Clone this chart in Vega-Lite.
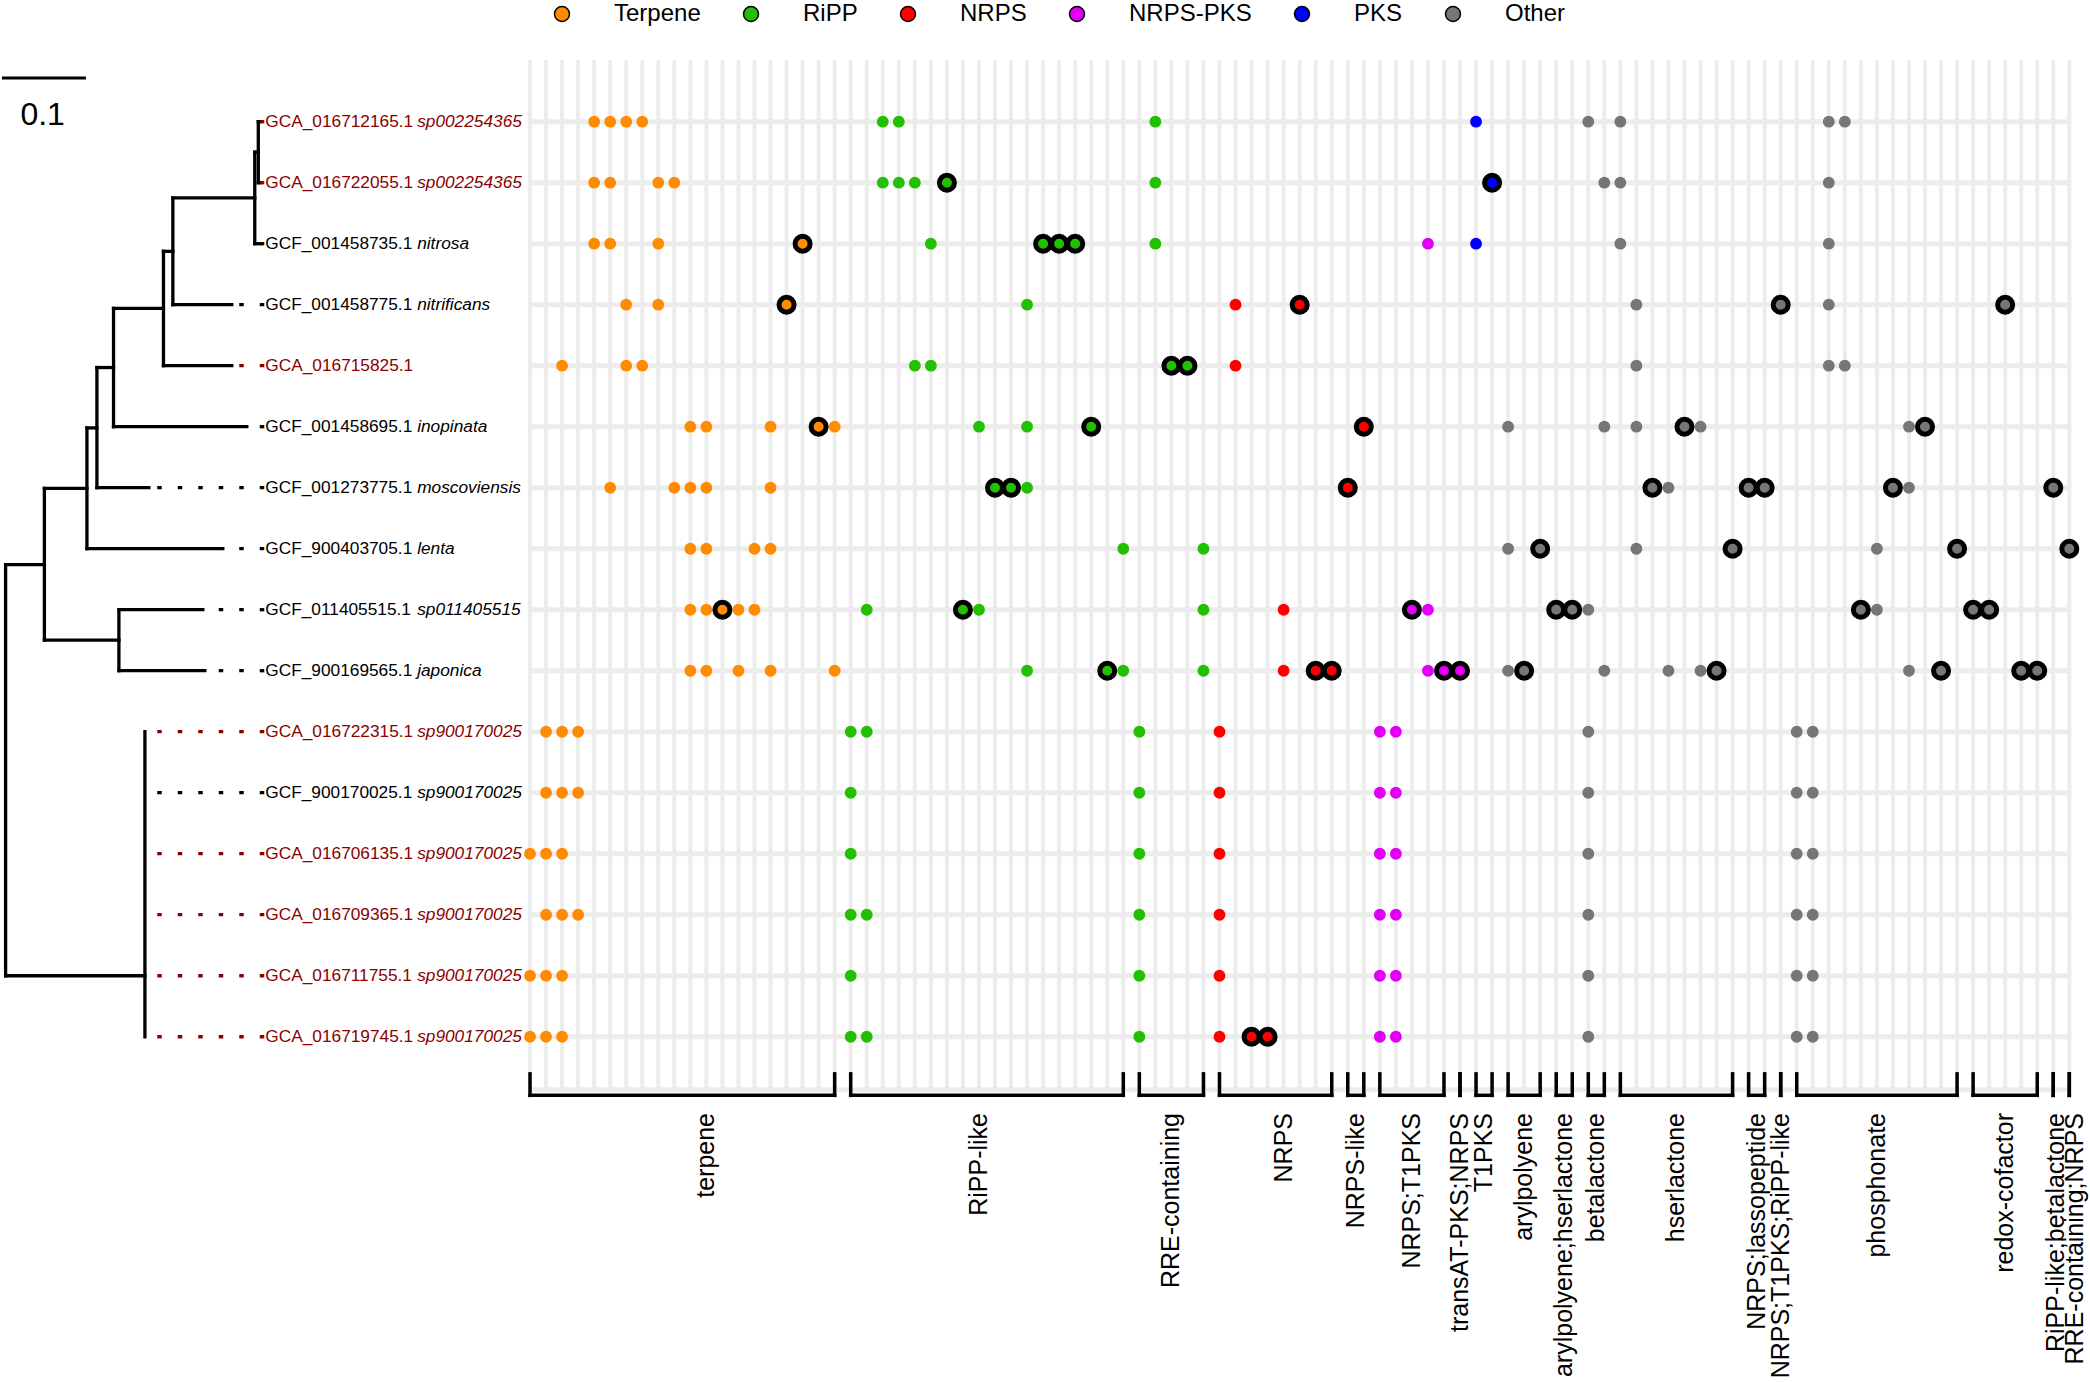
{
 "$schema": "https://vega.github.io/schema/vega-lite/v6.json",
 "width": 2090, "height": 1382,
 "autosize": {"type": "fit", "contains": "padding"},
 "padding": 0,
 "background": "white",
 "config": {"view": {"stroke": null}, "font": "Liberation Sans"},
 "resolve": {"scale": {"x": "independent", "color": "independent"}},
 "datasets": {
  "cols": [{"c":0},{"c":1},{"c":2},{"c":3},{"c":4},{"c":5},{"c":6},{"c":7},{"c":8},{"c":9},{"c":10},{"c":11},{"c":12},{"c":13},{"c":14},{"c":15},{"c":16},{"c":17},{"c":18},{"c":19},{"c":20},{"c":21},{"c":22},{"c":23},{"c":24},{"c":25},{"c":26},{"c":27},{"c":28},{"c":29},{"c":30},{"c":31},{"c":32},{"c":33},{"c":34},{"c":35},{"c":36},{"c":37},{"c":38},{"c":39},{"c":40},{"c":41},{"c":42},{"c":43},{"c":44},{"c":45},{"c":46},{"c":47},{"c":48},{"c":49},{"c":50},{"c":51},{"c":52},{"c":53},{"c":54},{"c":55},{"c":56},{"c":57},{"c":58},{"c":59},{"c":60},{"c":61},{"c":62},{"c":63},{"c":64},{"c":65},{"c":66},{"c":67},{"c":68},{"c":69},{"c":70},{"c":71},{"c":72},{"c":73},{"c":74},{"c":75},{"c":76},{"c":77},{"c":78},{"c":79},{"c":80},{"c":81},{"c":82},{"c":83},{"c":84},{"c":85},{"c":86},{"c":87},{"c":88},{"c":89},{"c":90},{"c":91},{"c":92},{"c":93},{"c":94},{"c":95},{"c":96}],
  "leaves": [
   {"r":0,"acc":"GCA_016712165.1","sp":"sp002254365","src":"GCA","tip":0.3035,"lab":0.3082},
   {"r":1,"acc":"GCA_016722055.1","sp":"sp002254365","src":"GCA","tip":0.3035,"lab":0.3082},
   {"r":2,"acc":"GCF_001458735.1","sp":"nitrosa","src":"GCF","tip":0.3035,"lab":0.3082},
   {"r":3,"acc":"GCF_001458775.1","sp":"nitrificans","src":"GCF","tip":0.2695,"lab":0.3082},
   {"r":4,"acc":"GCA_016715825.1","sp":"","src":"GCA","tip":0.2695,"lab":0.3082},
   {"r":5,"acc":"GCF_001458695.1","sp":"inopinata","src":"GCF","tip":0.2874,"lab":0.3082},
   {"r":6,"acc":"GCF_001273775.1","sp":"moscoviensis","src":"GCF","tip":0.1707,"lab":0.3082},
   {"r":7,"acc":"GCF_900403705.1","sp":"lenta","src":"GCF","tip":0.2588,"lab":0.3082},
   {"r":8,"acc":"GCF_011405515.1","sp":"sp011405515","src":"GCF","tip":0.235,"lab":0.3082},
   {"r":9,"acc":"GCF_900169565.1","sp":"japonica","src":"GCF","tip":0.2374,"lab":0.3082},
   {"r":10,"acc":"GCA_016722315.1","sp":"sp900170025","src":"GCA","tip":0.1743,"lab":0.3082},
   {"r":11,"acc":"GCF_900170025.1","sp":"sp900170025","src":"GCF","tip":0.1743,"lab":0.3082},
   {"r":12,"acc":"GCA_016706135.1","sp":"sp900170025","src":"GCA","tip":0.1743,"lab":0.3082},
   {"r":13,"acc":"GCA_016709365.1","sp":"sp900170025","src":"GCA","tip":0.1743,"lab":0.3082},
   {"r":14,"acc":"GCA_016711755.1","sp":"sp900170025","src":"GCA","tip":0.1743,"lab":0.3082},
   {"r":15,"acc":"GCA_016719745.1","sp":"sp900170025","src":"GCA","tip":0.1743,"lab":0.3082}
  ],
  "tree": [
   {"x":0.3011,"x2":0.3011,"y":0,"y2":1},
   {"x":0.2969,"x2":0.2969,"y":0.5,"y2":2},
   {"x":0.1993,"x2":0.1993,"y":1.25,"y2":3},
   {"x":0.1881,"x2":0.1881,"y":2.125,"y2":4},
   {"x":0.1286,"x2":0.1286,"y":3.06,"y2":5},
   {"x":0.1088,"x2":0.1088,"y":4.03,"y2":6},
   {"x":0.0969,"x2":0.0969,"y":5.02,"y2":7},
   {"x":0.135,"x2":0.135,"y":8,"y2":9},
   {"x":0.0462,"x2":0.0462,"y":6.01,"y2":8.5},
   {"x":0.166,"x2":0.166,"y":10,"y2":15},
   {"x":0,"x2":0,"y":7.26,"y2":14},
   {"x":0.3011,"x2":0.3035,"y":0,"y2":0},
   {"x":0.3011,"x2":0.3035,"y":1,"y2":1},
   {"x":0.2969,"x2":0.3011,"y":0.5,"y2":0.5},
   {"x":0.2969,"x2":0.3035,"y":2,"y2":2},
   {"x":0.1993,"x2":0.2969,"y":1.25,"y2":1.25},
   {"x":0.1993,"x2":0.2695,"y":3,"y2":3},
   {"x":0.1881,"x2":0.1993,"y":2.125,"y2":2.125},
   {"x":0.1881,"x2":0.2695,"y":4,"y2":4},
   {"x":0.1286,"x2":0.1881,"y":3.06,"y2":3.06},
   {"x":0.1286,"x2":0.2874,"y":5,"y2":5},
   {"x":0.1088,"x2":0.1286,"y":4.03,"y2":4.03},
   {"x":0.1088,"x2":0.1707,"y":6,"y2":6},
   {"x":0.0969,"x2":0.1088,"y":5.02,"y2":5.02},
   {"x":0.0969,"x2":0.2588,"y":7,"y2":7},
   {"x":0.0462,"x2":0.0969,"y":6.01,"y2":6.01},
   {"x":0.0462,"x2":0.135,"y":8.5,"y2":8.5},
   {"x":0.135,"x2":0.235,"y":8,"y2":8},
   {"x":0.135,"x2":0.2374,"y":9,"y2":9},
   {"x":0,"x2":0.0462,"y":7.26,"y2":7.26},
   {"x":0,"x2":0.166,"y":14,"y2":14}
  ],
  "groups": [
   {"g":"terpene","s":0,"e":19,"lx":11},
   {"g":"RiPP-like","s":20,"e":37,"lx":28},
   {"g":"RRE-containing","s":38,"e":42,"lx":40},
   {"g":"NRPS","s":43,"e":50,"lx":47},
   {"g":"NRPS-like","s":51,"e":52,"lx":51.5},
   {"g":"NRPS;T1PKS","s":53,"e":57,"lx":55},
   {"g":"transAT-PKS;NRPS","s":58,"e":58,"lx":58},
   {"g":"T1PKS","s":59,"e":60,"lx":59.5},
   {"g":"arylpolyene","s":61,"e":63,"lx":62},
   {"g":"arylpolyene;hserlactone","s":64,"e":65,"lx":64.5},
   {"g":"betalactone","s":66,"e":67,"lx":66.5},
   {"g":"hserlactone","s":68,"e":75,"lx":71.5},
   {"g":"NRPS;lassopeptide","s":76,"e":77,"lx":76.5},
   {"g":"NRPS;T1PKS;RiPP-like","s":78,"e":78,"lx":78},
   {"g":"phosphonate","s":79,"e":89,"lx":84},
   {"g":"redox-cofactor","s":90,"e":94,"lx":92},
   {"g":"RiPP-like;betalactone","s":95,"e":95,"lx":95.2},
   {"g":"RRE-containing;NRPS","s":96,"e":96,"lx":96.35}
  ],
  "dots": [
   {"r":0,"c":4,"t":"Terpene","b":0},{"r":0,"c":5,"t":"Terpene","b":0},{"r":0,"c":6,"t":"Terpene","b":0},{"r":0,"c":7,"t":"Terpene","b":0},
   {"r":0,"c":22,"t":"RiPP","b":0},{"r":0,"c":23,"t":"RiPP","b":0},{"r":0,"c":39,"t":"RiPP","b":0},{"r":0,"c":59,"t":"PKS","b":0},
   {"r":0,"c":66,"t":"Other","b":0},{"r":0,"c":68,"t":"Other","b":0},{"r":0,"c":81,"t":"Other","b":0},{"r":0,"c":82,"t":"Other","b":0},
   {"r":1,"c":4,"t":"Terpene","b":0},{"r":1,"c":5,"t":"Terpene","b":0},{"r":1,"c":8,"t":"Terpene","b":0},{"r":1,"c":9,"t":"Terpene","b":0},
   {"r":1,"c":22,"t":"RiPP","b":0},{"r":1,"c":23,"t":"RiPP","b":0},{"r":1,"c":24,"t":"RiPP","b":0},{"r":1,"c":26,"t":"RiPP","b":1},{"r":1,"c":39,"t":"RiPP","b":0},
   {"r":1,"c":60,"t":"PKS","b":1},{"r":1,"c":67,"t":"Other","b":0},{"r":1,"c":68,"t":"Other","b":0},{"r":1,"c":81,"t":"Other","b":0},
   {"r":2,"c":4,"t":"Terpene","b":0},{"r":2,"c":5,"t":"Terpene","b":0},{"r":2,"c":8,"t":"Terpene","b":0},{"r":2,"c":17,"t":"Terpene","b":1},
   {"r":2,"c":25,"t":"RiPP","b":0},{"r":2,"c":32,"t":"RiPP","b":1},{"r":2,"c":33,"t":"RiPP","b":1},{"r":2,"c":34,"t":"RiPP","b":1},{"r":2,"c":39,"t":"RiPP","b":0},
   {"r":2,"c":56,"t":"NRPS-PKS","b":0},{"r":2,"c":59,"t":"PKS","b":0},{"r":2,"c":68,"t":"Other","b":0},{"r":2,"c":81,"t":"Other","b":0},
   {"r":3,"c":6,"t":"Terpene","b":0},{"r":3,"c":8,"t":"Terpene","b":0},{"r":3,"c":16,"t":"Terpene","b":1},{"r":3,"c":31,"t":"RiPP","b":0},
   {"r":3,"c":44,"t":"NRPS","b":0},{"r":3,"c":48,"t":"NRPS","b":1},{"r":3,"c":69,"t":"Other","b":0},{"r":3,"c":78,"t":"Other","b":1},{"r":3,"c":81,"t":"Other","b":0},{"r":3,"c":92,"t":"Other","b":1},
   {"r":4,"c":2,"t":"Terpene","b":0},{"r":4,"c":6,"t":"Terpene","b":0},{"r":4,"c":7,"t":"Terpene","b":0},{"r":4,"c":24,"t":"RiPP","b":0},{"r":4,"c":25,"t":"RiPP","b":0},
   {"r":4,"c":40,"t":"RiPP","b":1},{"r":4,"c":41,"t":"RiPP","b":1},{"r":4,"c":44,"t":"NRPS","b":0},{"r":4,"c":69,"t":"Other","b":0},{"r":4,"c":81,"t":"Other","b":0},{"r":4,"c":82,"t":"Other","b":0},
   {"r":5,"c":10,"t":"Terpene","b":0},{"r":5,"c":11,"t":"Terpene","b":0},{"r":5,"c":15,"t":"Terpene","b":0},{"r":5,"c":18,"t":"Terpene","b":1},{"r":5,"c":19,"t":"Terpene","b":0},
   {"r":5,"c":28,"t":"RiPP","b":0},{"r":5,"c":31,"t":"RiPP","b":0},{"r":5,"c":35,"t":"RiPP","b":1},{"r":5,"c":52,"t":"NRPS","b":1},
   {"r":5,"c":61,"t":"Other","b":0},{"r":5,"c":67,"t":"Other","b":0},{"r":5,"c":69,"t":"Other","b":0},{"r":5,"c":72,"t":"Other","b":1},{"r":5,"c":73,"t":"Other","b":0},{"r":5,"c":86,"t":"Other","b":0},{"r":5,"c":87,"t":"Other","b":1},
   {"r":6,"c":5,"t":"Terpene","b":0},{"r":6,"c":9,"t":"Terpene","b":0},{"r":6,"c":10,"t":"Terpene","b":0},{"r":6,"c":11,"t":"Terpene","b":0},{"r":6,"c":15,"t":"Terpene","b":0},
   {"r":6,"c":29,"t":"RiPP","b":1},{"r":6,"c":30,"t":"RiPP","b":1},{"r":6,"c":31,"t":"RiPP","b":0},{"r":6,"c":51,"t":"NRPS","b":1},
   {"r":6,"c":70,"t":"Other","b":1},{"r":6,"c":71,"t":"Other","b":0},{"r":6,"c":76,"t":"Other","b":1},{"r":6,"c":77,"t":"Other","b":1},{"r":6,"c":85,"t":"Other","b":1},{"r":6,"c":86,"t":"Other","b":0},{"r":6,"c":95,"t":"Other","b":1},
   {"r":7,"c":10,"t":"Terpene","b":0},{"r":7,"c":11,"t":"Terpene","b":0},{"r":7,"c":14,"t":"Terpene","b":0},{"r":7,"c":15,"t":"Terpene","b":0},
   {"r":7,"c":37,"t":"RiPP","b":0},{"r":7,"c":42,"t":"RiPP","b":0},
   {"r":7,"c":61,"t":"Other","b":0},{"r":7,"c":63,"t":"Other","b":1},{"r":7,"c":69,"t":"Other","b":0},{"r":7,"c":75,"t":"Other","b":1},{"r":7,"c":84,"t":"Other","b":0},{"r":7,"c":89,"t":"Other","b":1},{"r":7,"c":96,"t":"Other","b":1},
   {"r":8,"c":10,"t":"Terpene","b":0},{"r":8,"c":11,"t":"Terpene","b":0},{"r":8,"c":13,"t":"Terpene","b":0},{"r":8,"c":14,"t":"Terpene","b":0},{"r":8,"c":12,"t":"Terpene","b":1},
   {"r":8,"c":21,"t":"RiPP","b":0},{"r":8,"c":28,"t":"RiPP","b":0},{"r":8,"c":27,"t":"RiPP","b":1},{"r":8,"c":42,"t":"RiPP","b":0},
   {"r":8,"c":47,"t":"NRPS","b":0},{"r":8,"c":56,"t":"NRPS-PKS","b":0},{"r":8,"c":55,"t":"NRPS-PKS","b":1},
   {"r":8,"c":66,"t":"Other","b":0},{"r":8,"c":64,"t":"Other","b":1},{"r":8,"c":65,"t":"Other","b":1},{"r":8,"c":84,"t":"Other","b":0},{"r":8,"c":83,"t":"Other","b":1},{"r":8,"c":90,"t":"Other","b":1},{"r":8,"c":91,"t":"Other","b":1},
   {"r":9,"c":10,"t":"Terpene","b":0},{"r":9,"c":11,"t":"Terpene","b":0},{"r":9,"c":13,"t":"Terpene","b":0},{"r":9,"c":15,"t":"Terpene","b":0},{"r":9,"c":19,"t":"Terpene","b":0},
   {"r":9,"c":31,"t":"RiPP","b":0},{"r":9,"c":37,"t":"RiPP","b":0},{"r":9,"c":36,"t":"RiPP","b":1},{"r":9,"c":42,"t":"RiPP","b":0},
   {"r":9,"c":47,"t":"NRPS","b":0},{"r":9,"c":49,"t":"NRPS","b":1},{"r":9,"c":50,"t":"NRPS","b":1},
   {"r":9,"c":56,"t":"NRPS-PKS","b":0},{"r":9,"c":57,"t":"NRPS-PKS","b":1},{"r":9,"c":58,"t":"NRPS-PKS","b":1},
   {"r":9,"c":61,"t":"Other","b":0},{"r":9,"c":62,"t":"Other","b":1},{"r":9,"c":67,"t":"Other","b":0},{"r":9,"c":71,"t":"Other","b":0},{"r":9,"c":73,"t":"Other","b":0},{"r":9,"c":74,"t":"Other","b":1},
   {"r":9,"c":86,"t":"Other","b":0},{"r":9,"c":88,"t":"Other","b":1},{"r":9,"c":93,"t":"Other","b":1},{"r":9,"c":94,"t":"Other","b":1},
   {"r":10,"c":1,"t":"Terpene","b":0},{"r":10,"c":2,"t":"Terpene","b":0},{"r":10,"c":3,"t":"Terpene","b":0},{"r":10,"c":20,"t":"RiPP","b":0},{"r":10,"c":21,"t":"RiPP","b":0},{"r":10,"c":38,"t":"RiPP","b":0},
   {"r":10,"c":43,"t":"NRPS","b":0},{"r":10,"c":53,"t":"NRPS-PKS","b":0},{"r":10,"c":54,"t":"NRPS-PKS","b":0},{"r":10,"c":66,"t":"Other","b":0},{"r":10,"c":79,"t":"Other","b":0},{"r":10,"c":80,"t":"Other","b":0},
   {"r":11,"c":1,"t":"Terpene","b":0},{"r":11,"c":2,"t":"Terpene","b":0},{"r":11,"c":3,"t":"Terpene","b":0},{"r":11,"c":20,"t":"RiPP","b":0},{"r":11,"c":38,"t":"RiPP","b":0},
   {"r":11,"c":43,"t":"NRPS","b":0},{"r":11,"c":53,"t":"NRPS-PKS","b":0},{"r":11,"c":54,"t":"NRPS-PKS","b":0},{"r":11,"c":66,"t":"Other","b":0},{"r":11,"c":79,"t":"Other","b":0},{"r":11,"c":80,"t":"Other","b":0},
   {"r":12,"c":0,"t":"Terpene","b":0},{"r":12,"c":1,"t":"Terpene","b":0},{"r":12,"c":2,"t":"Terpene","b":0},{"r":12,"c":20,"t":"RiPP","b":0},{"r":12,"c":38,"t":"RiPP","b":0},
   {"r":12,"c":43,"t":"NRPS","b":0},{"r":12,"c":53,"t":"NRPS-PKS","b":0},{"r":12,"c":54,"t":"NRPS-PKS","b":0},{"r":12,"c":66,"t":"Other","b":0},{"r":12,"c":79,"t":"Other","b":0},{"r":12,"c":80,"t":"Other","b":0},
   {"r":13,"c":1,"t":"Terpene","b":0},{"r":13,"c":2,"t":"Terpene","b":0},{"r":13,"c":3,"t":"Terpene","b":0},{"r":13,"c":20,"t":"RiPP","b":0},{"r":13,"c":21,"t":"RiPP","b":0},{"r":13,"c":38,"t":"RiPP","b":0},
   {"r":13,"c":43,"t":"NRPS","b":0},{"r":13,"c":53,"t":"NRPS-PKS","b":0},{"r":13,"c":54,"t":"NRPS-PKS","b":0},{"r":13,"c":66,"t":"Other","b":0},{"r":13,"c":79,"t":"Other","b":0},{"r":13,"c":80,"t":"Other","b":0},
   {"r":14,"c":0,"t":"Terpene","b":0},{"r":14,"c":1,"t":"Terpene","b":0},{"r":14,"c":2,"t":"Terpene","b":0},{"r":14,"c":20,"t":"RiPP","b":0},{"r":14,"c":38,"t":"RiPP","b":0},
   {"r":14,"c":43,"t":"NRPS","b":0},{"r":14,"c":53,"t":"NRPS-PKS","b":0},{"r":14,"c":54,"t":"NRPS-PKS","b":0},{"r":14,"c":66,"t":"Other","b":0},{"r":14,"c":79,"t":"Other","b":0},{"r":14,"c":80,"t":"Other","b":0},
   {"r":15,"c":0,"t":"Terpene","b":0},{"r":15,"c":1,"t":"Terpene","b":0},{"r":15,"c":2,"t":"Terpene","b":0},{"r":15,"c":20,"t":"RiPP","b":0},{"r":15,"c":21,"t":"RiPP","b":0},{"r":15,"c":38,"t":"RiPP","b":0},
   {"r":15,"c":43,"t":"NRPS","b":0},{"r":15,"c":45,"t":"NRPS","b":1},{"r":15,"c":46,"t":"NRPS","b":1},{"r":15,"c":53,"t":"NRPS-PKS","b":0},{"r":15,"c":54,"t":"NRPS-PKS","b":0},{"r":15,"c":66,"t":"Other","b":0},{"r":15,"c":79,"t":"Other","b":0},{"r":15,"c":80,"t":"Other","b":0}
  ]
 },
 "layer": [
  {
   "data": {"name": "cols"},
   "mark": {"type": "rule", "color": "#ECECEC", "strokeWidth": 4},
   "encoding": {
    "x": {"field": "c", "type": "quantitative", "scale": {"domain": [-32.93, 97.29], "nice": false, "zero": false}, "axis": null},
    "y": {"datum": -1.01, "type": "quantitative", "scale": {"domain": [-1.995, 20.66], "reverse": true, "nice": false, "zero": false}, "axis": null},
    "y2": {"datum": 15.87}
   }
  },
  {
   "data": {"name": "leaves"},
   "mark": {"type": "rule", "color": "#ECECEC", "strokeWidth": 5},
   "encoding": {
    "x": {"datum": -0.12, "type": "quantitative", "scale": {"domain": [-32.93, 97.29], "nice": false, "zero": false}, "axis": null},
    "x2": {"datum": 96.12},
    "y": {"field": "r", "type": "quantitative", "scale": {"domain": [-1.995, 20.66], "reverse": true, "nice": false, "zero": false}, "axis": null}
   }
  },
  {
   "data": {"values": [{"k": 1}]},
   "mark": {"type": "rule", "color": "#ECECEC", "strokeWidth": 5},
   "encoding": {
    "x": {"datum": -0.12, "type": "quantitative", "scale": {"domain": [-32.93, 97.29], "nice": false, "zero": false}, "axis": null},
    "x2": {"datum": 96.12},
    "y": {"datum": 15.87, "type": "quantitative", "scale": {"domain": [-1.995, 20.66], "reverse": true, "nice": false, "zero": false}, "axis": null}
   }
  },
  {
   "data": {"name": "groups"},
   "mark": {"type": "rule", "color": "black", "strokeWidth": 3.5},
   "encoding": {
    "x": {"field": "s", "type": "quantitative", "scale": {"domain": [-32.93, 97.29], "nice": false, "zero": false}, "axis": null},
    "y": {"datum": 15.58, "type": "quantitative", "scale": {"domain": [-1.995, 20.66], "reverse": true, "nice": false, "zero": false}, "axis": null},
    "y2": {"datum": 15.99}
   }
  },
  {
   "data": {"name": "groups"},
   "mark": {"type": "rule", "color": "black", "strokeWidth": 3.5},
   "encoding": {
    "x": {"field": "e", "type": "quantitative", "scale": {"domain": [-32.93, 97.29], "nice": false, "zero": false}, "axis": null},
    "y": {"datum": 15.58, "type": "quantitative", "scale": {"domain": [-1.995, 20.66], "reverse": true, "nice": false, "zero": false}, "axis": null},
    "y2": {"datum": 15.99}
   }
  },
  {
   "data": {"name": "groups"},
   "mark": {"type": "rule", "color": "black", "strokeWidth": 3.5, "strokeCap": "square"},
   "encoding": {
    "x": {"field": "s", "type": "quantitative", "scale": {"domain": [-32.93, 97.29], "nice": false, "zero": false}, "axis": null},
    "x2": {"field": "e"},
    "y": {"datum": 15.96, "type": "quantitative", "scale": {"domain": [-1.995, 20.66], "reverse": true, "nice": false, "zero": false}, "axis": null}
   }
  },
  {
   "data": {"name": "groups"},
   "mark": {"type": "text", "angle": 270, "align": "right", "baseline": "middle", "fontSize": 25, "font": "Liberation Sans", "color": "black"},
   "encoding": {
    "x": {"field": "lx", "type": "quantitative", "scale": {"domain": [-32.93, 97.29], "nice": false, "zero": false}, "axis": null},
    "y": {"datum": 16.25, "type": "quantitative", "scale": {"domain": [-1.995, 20.66], "reverse": true, "nice": false, "zero": false}, "axis": null},
    "text": {"field": "g"}
   }
  },
  {
   "data": {"name": "dots"},
   "transform": [{"filter": "datum.b == 0"}],
   "mark": {"type": "point", "shape": "circle", "filled": true, "size": 140, "opacity": 1, "strokeWidth": 0},
   "encoding": {
    "x": {"field": "c", "type": "quantitative", "scale": {"domain": [-32.93, 97.29], "nice": false, "zero": false}, "axis": null},
    "y": {"field": "r", "type": "quantitative", "scale": {"domain": [-1.995, 20.66], "reverse": true, "nice": false, "zero": false}, "axis": null},
    "fill": {"field": "t", "type": "nominal",
      "scale": {"domain": ["Terpene", "RiPP", "NRPS", "NRPS-PKS", "PKS", "Other"], "range": ["#FF8C00", "#22C000", "#FF0000", "#E100F5", "#0000FF", "#767676"]},
      "legend": {"orient": "none", "legendX": 548, "legendY": 2, "direction": "horizontal", "columns": 6, "title": null,
        "labelFontSize": 24, "labelFont": "Liberation Sans", "labelColor": "black", "symbolType": "circle", "symbolSize": 225,
        "symbolStrokeColor": "black", "symbolStrokeWidth": 1.5, "symbolOpacity": 1, "labelOffset": 40, "columnPadding": 38, "padding": 0, "symbolOffset": 0}}
   }
  },
  {
   "data": {"name": "dots"},
   "transform": [{"filter": "datum.b == 1"}],
   "mark": {"type": "point", "shape": "circle", "filled": true, "size": 225, "opacity": 1, "stroke": "black", "strokeWidth": 5},
   "encoding": {
    "x": {"field": "c", "type": "quantitative", "scale": {"domain": [-32.93, 97.29], "nice": false, "zero": false}, "axis": null},
    "y": {"field": "r", "type": "quantitative", "scale": {"domain": [-1.995, 20.66], "reverse": true, "nice": false, "zero": false}, "axis": null},
    "fill": {"field": "t", "type": "nominal",
      "scale": {"domain": ["Terpene", "RiPP", "NRPS", "NRPS-PKS", "PKS", "Other"], "range": ["#FF8C00", "#22C000", "#FF0000", "#E100F5", "#0000FF", "#767676"]}}
   }
  },
  {
   "data": {"name": "tree"},
   "mark": {"type": "rule", "color": "black", "strokeWidth": 3.3, "strokeCap": "square"},
   "encoding": {
    "x": {"field": "x", "type": "quantitative", "scale": {"domain": [-0.0043, 2.4838], "nice": false, "zero": false}, "axis": null},
    "x2": {"field": "x2"},
    "y": {"field": "y", "type": "quantitative", "scale": {"domain": [-1.995, 20.66], "reverse": true, "nice": false, "zero": false}, "axis": null},
    "y2": {"field": "y2"}
   }
  },
  {
   "data": {"name": "leaves"},
   "mark": {"type": "rule", "strokeWidth": 3.3, "strokeDash": [4.5, 16]},
   "encoding": {
    "x": {"field": "lab", "type": "quantitative", "scale": {"domain": [-0.0043, 2.4838], "nice": false, "zero": false}, "axis": null},
    "x2": {"field": "tip"},
    "y": {"field": "r", "type": "quantitative", "scale": {"domain": [-1.995, 20.66], "reverse": true, "nice": false, "zero": false}, "axis": null},
    "color": {"field": "src", "type": "nominal", "scale": {"domain": ["GCA", "GCF"], "range": ["#8B0000", "#000000"]}, "legend": null}
   }
  },
  {
   "data": {"name": "leaves"},
   "mark": {"type": "text", "align": "left", "baseline": "middle", "fontSize": 17.3, "font": "Liberation Sans"},
   "encoding": {
    "x": {"datum": 0.3094, "type": "quantitative", "scale": {"domain": [-0.0043, 2.4838], "nice": false, "zero": false}, "axis": null},
    "y": {"field": "r", "type": "quantitative", "scale": {"domain": [-1.995, 20.66], "reverse": true, "nice": false, "zero": false}, "axis": null},
    "text": {"field": "acc"},
    "color": {"field": "src", "type": "nominal", "scale": {"domain": ["GCA", "GCF"], "range": ["#8B0000", "#000000"]}, "legend": null}
   }
  },
  {
   "data": {"name": "leaves"},
   "mark": {"type": "text", "align": "left", "baseline": "middle", "fontSize": 17.3, "font": "Liberation Sans", "fontStyle": "italic"},
   "encoding": {
    "x": {"datum": 0.4904, "type": "quantitative", "scale": {"domain": [-0.0043, 2.4838], "nice": false, "zero": false}, "axis": null},
    "y": {"field": "r", "type": "quantitative", "scale": {"domain": [-1.995, 20.66], "reverse": true, "nice": false, "zero": false}, "axis": null},
    "text": {"field": "sp"},
    "color": {"field": "src", "type": "nominal", "scale": {"domain": ["GCA", "GCF"], "range": ["#8B0000", "#000000"]}, "legend": null}
   }
  },
  {
   "data": {"values": [{"lab": "0.1"}]},
   "mark": {"type": "rule", "color": "black", "strokeWidth": 3},
   "encoding": {
    "x": {"datum": -0.0043, "type": "quantitative", "scale": {"domain": [-0.0043, 2.4838], "nice": false, "zero": false}, "axis": null},
    "x2": {"datum": 0.0957},
    "y": {"datum": -0.716, "type": "quantitative", "scale": {"domain": [-1.995, 20.66], "reverse": true, "nice": false, "zero": false}, "axis": null}
   }
  },
  {
   "data": {"values": [{"lab": "0.1"}]},
   "mark": {"type": "text", "align": "center", "baseline": "middle", "fontSize": 32, "font": "Liberation Sans", "color": "black"},
   "encoding": {
    "x": {"datum": 0.0441, "type": "quantitative", "scale": {"domain": [-0.0043, 2.4838], "nice": false, "zero": false}, "axis": null},
    "y": {"datum": -0.11, "type": "quantitative", "scale": {"domain": [-1.995, 20.66], "reverse": true, "nice": false, "zero": false}, "axis": null},
    "text": {"field": "lab"}
   }
  }
 ]
}
